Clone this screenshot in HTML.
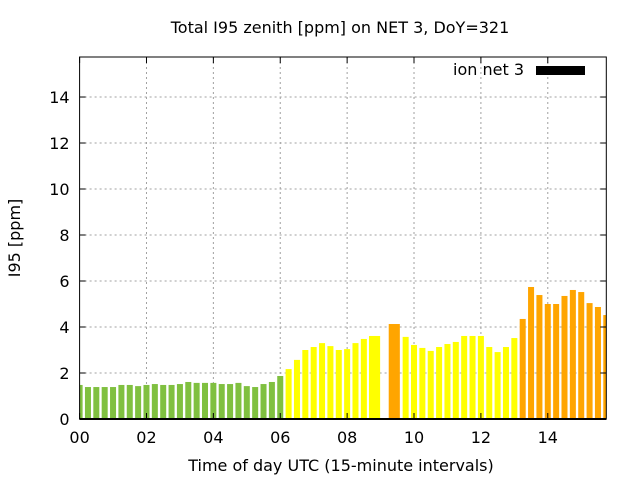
<!DOCTYPE html>
<html><head><meta charset="utf-8"><style>
body{margin:0;background:#fff;}
svg{display:block;font-family:"DejaVu Sans","Liberation Sans",sans-serif;}
</style></head><body>
<svg id="chart" width="640" height="480" xmlns="http://www.w3.org/2000/svg">
<rect width="640" height="480" fill="#fff"/>
<text x="340" y="33" font-size="16" text-anchor="middle" fill="#000">Total I95 zenith [ppm] on NET 3, DoY=321</text>
<text x="341" y="471" font-size="16" text-anchor="middle" fill="#000">Time of day UTC (15-minute intervals)</text>
<text transform="translate(20,238) rotate(-90)" font-size="16" text-anchor="middle" fill="#000">I95 [ppm]</text>
<g id="grid"></g>
<g id="bars"></g>
<g id="axes"></g>
<g>
<text x="524" y="75" font-size="16" text-anchor="end" fill="#000">ion net 3</text>
<rect x="536" y="66" width="49" height="9" fill="#000"/>
</g>
</svg>
<script>
const times = [0,0.25,0.5,0.75,1,1.25,1.5,1.75,2,2.25,2.5,2.75,3,3.25,3.5,3.75,4,4.25,4.5,4.75,5,5.25,5.5,5.75,6,6.25,6.5,6.75,7,7.25,7.5,7.75,8,8.25,8.5,8.82,9.41,9.75,10,10.25,10.5,10.75,11,11.25,11.5,11.75,12,12.25,12.5,12.75,13,13.25,13.5,13.75,14,14.25,14.5,14.75,15,15.25,15.5,15.75];
const values = [1.48,1.39,1.39,1.39,1.39,1.48,1.48,1.43,1.48,1.52,1.48,1.48,1.52,1.61,1.57,1.57,1.57,1.52,1.52,1.57,1.43,1.39,1.52,1.61,1.87,2.17,2.57,3.0,3.13,3.3,3.17,3.0,3.04,3.3,3.48,3.61,4.13,3.57,3.22,3.09,2.96,3.13,3.26,3.35,3.61,3.61,3.61,3.13,2.91,3.13,3.52,4.35,5.74,5.39,5.0,5.0,5.35,5.61,5.52,5.04,4.87,4.52];
const spans = [1,1,1,1,1,1,1,1,1,1,1,1,1,1,1,1,1,1,1,1,1,1,1,1,1,1,1,1,1,1,1,1,1,1,1,1.85,1.85,1,1,1,1,1,1,1,1,1,1,1,1,1,1,1,1,1,1,1,1,1,1,1,1,1];
const yTicks = [0,2,4,6,8,10,12,14];
const xTicks = [0,2,4,6,8,10,12,14];
const xTickLabels = ["00","02","04","06","08","10","12","14"];

const L=79.6,R=606.3,T=57,B=419,XMAX=15.75,YMAX=15.74;
const xs=v=>L+v/XMAX*(R-L), ys=v=>B-v/YMAX*(B-T);
const NS="http://www.w3.org/2000/svg";
function mk(tag,attrs,parent){const e=document.createElementNS(NS,tag);for(const k in attrs)e.setAttribute(k,attrs[k]);parent.appendChild(e);return e;}
const grid=document.getElementById('grid'),bars=document.getElementById('bars'),axes=document.getElementById('axes');
yTicks.forEach((t,i)=>{
  const y=ys(t);
  if(t>0){const g=mk('line',{x1:L,x2:R,y1:y,y2:y,stroke:'#a0a0a0','stroke-dasharray':'2,3'},grid);
  
  }
  const tl=mk('line',{x1:L,x2:L+6,y1:y,y2:y,stroke:'#000'},axes);
  
  
  const tr=mk('line',{x1:R-6,x2:R,y1:y,y2:y,stroke:'#000'},axes);
  
  
  const tx=mk('text',{x:L-10,y:y+6,'font-size':16,'text-anchor':'end',fill:'#000'},axes);
  tx.textContent=t;
  
  
});
xTicks.forEach((t,i)=>{
  const x=xs(t);
  if(t>0){const g=mk('line',{x1:x,x2:x,y1:T,y2:B,stroke:'#a0a0a0','stroke-dasharray':'2,3'},grid);
  
  }
  const tk=mk('line',{x1:x,x2:x,y1:B,y2:B-6,stroke:'#000'},axes);
  
  
  const tt=mk('line',{x1:x,x2:x,y1:T,y2:T+6,stroke:'#000'},axes);
  
  
  const tx=mk('text',{x:x,y:B+24,'font-size':16,'text-anchor':'middle',fill:'#000'},axes);
  tx.textContent=xTickLabels[i];
  
  
});
const slot=xs(0.25)-xs(0);
times.forEach((t,i)=>{
  const v=values[i],w=slot*0.72*spans[i],cx=xs(t);
  let x0=Math.max(L,cx-w/2),x1=Math.min(R,cx+w/2);
  const col=v<2?'#80c040':(v<4?'#ffff00':'#ffa500');
  const r=mk('rect',{x:x0,y:ys(v),width:x1-x0,height:B-ys(v),fill:col},bars);
  
  
});
const fr=mk('rect',{x:L,y:T,width:R-L,height:B-T,fill:'none',stroke:'#000','stroke-width':1},axes);


const bl=mk('line',{x1:L,x2:R,y1:B,y2:B,stroke:'#000','stroke-width':2},axes);


</script>
</body></html>
